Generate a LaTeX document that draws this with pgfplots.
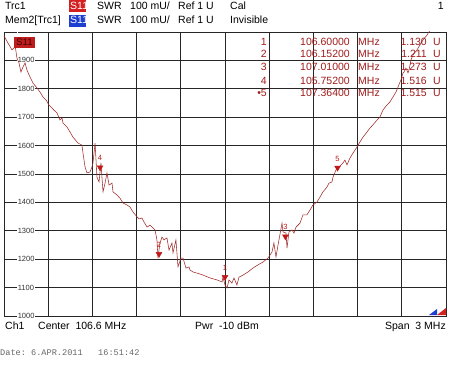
\documentclass[border=0pt]{standalone}
\usepackage{pgfplots}
\pgfplotsset{compat=1.18}
\usepackage{fontspec}
\setmainfont{Liberation Sans}
\setmonofont{Liberation Mono}
\definecolor{trace}{HTML}{A02A2A}
\definecolor{mkred}{HTML}{C01818}
\definecolor{txtred}{HTML}{A01C1C}
\definecolor{hdred}{HTML}{D42020}
\definecolor{hdblue}{HTML}{1F3FD0}
\pgfplotstableread{
f v
105.100 1986
105.127 1961
105.154 1937
105.168 1944
105.175 1954
105.188 1908
105.202 1891
105.215 1859
105.229 1877
105.243 1891
105.256 1866
105.276 1842
105.297 1820
105.324 1803
105.344 1789
105.365 1771
105.385 1761
105.405 1743
105.426 1732
105.439 1725
105.460 1715
105.480 1690
105.494 1697
105.500 1680
105.528 1665
105.548 1648
105.568 1630
105.602 1609
105.629 1602
105.636 1574
105.650 1525
105.663 1504
105.684 1507
105.697 1525
105.704 1539
105.718 1609
105.731 1489
105.745 1472
105.758 1539
105.772 1437
105.786 1468
105.799 1504
105.813 1461
105.833 1468
105.840 1437
105.867 1426
105.887 1415
105.908 1398
105.935 1391
105.955 1384
105.976 1366
106.003 1349
106.016 1342
106.037 1345
106.050 1331
106.071 1313
106.091 1320
106.111 1310
106.125 1303
106.138 1268
106.145 1208
106.159 1257
106.172 1278
106.186 1268
106.206 1275
106.220 1232
106.240 1257
106.247 1222
106.267 1268
106.281 1173
106.301 1204
106.315 1204
106.335 1169
106.356 1173
106.362 1162
106.383 1155
106.410 1151
106.451 1144
106.498 1134
106.546 1127
106.580 1120
106.586 1137
106.600 1109
106.614 1099
106.627 1127
106.647 1116
106.661 1134
106.681 1109
106.695 1137
106.722 1144
106.756 1155
106.790 1169
106.824 1180
106.858 1190
106.892 1204
106.919 1225
106.932 1257
106.946 1208
106.960 1250
106.987 1327
106.994 1296
107.014 1292
107.021 1239
107.034 1296
107.055 1303
107.068 1292
107.082 1313
107.109 1327
107.129 1356
107.156 1356
107.177 1373
107.197 1391
107.224 1401
107.245 1419
107.265 1437
107.292 1454
107.306 1468
107.326 1472
107.333 1489
107.353 1514
107.374 1525
107.401 1539
107.414 1549
107.428 1532
107.448 1556
107.469 1574
107.496 1595
107.516 1613
107.537 1630
107.564 1648
107.584 1662
107.604 1673
107.632 1690
107.652 1701
107.672 1725
107.699 1743
107.720 1754
107.740 1771
107.761 1789
107.774 1806
107.794 1831
107.808 1856
107.815 1859
107.828 1873
107.842 1856
107.849 1866
107.862 1901
107.876 1919
107.903 1937
107.923 1954
107.944 1972
107.971 1989
107.984 2000
108.059 2060
}\tracedata
\pgfplotstableread{
f v lab
106.600 1130 1
106.152 1211 2
107.010 1273 3
105.752 1516 4
107.364 1515 5
}\markerdata
\begin{document}
\begin{tikzpicture}
\path[use as bounding box] (0,0) rectangle (450pt,370pt);
\begin{axis}[
  at={(4pt,54pt)}, anchor=south west,
  scale only axis, width=442pt, height=284pt,
  xmin=105.1, xmax=108.1, ymin=1000, ymax=2000,
  xtick={105.4,105.7,106.0,106.3,106.6,106.9,107.2,107.5,107.8},
  xticklabels={},
  ytick={1000,1100,1200,1300,1400,1500,1600,1700,1800,1900,2000},
  yticklabels={1000,1100,1200,1300,1400,1500,1600,1700,1800,1900,{}},
  grid=major,
  major grid style={black!85, line width=0.8pt},
  axis line style={black!85, line width=0.9pt},
  major tick length=0pt,
  yticklabel style={anchor=west, xshift=13pt, fill=white, inner sep=0.6pt, font=\fontsize{7.5}{8}\selectfont, text=black!80},
  clip=true,
]
\addplot[trace, line width=0.55pt, mark=none] table[x=f, y=v] {\tracedata};
\addplot[only marks, mark=triangle*, mark size=3.4pt, color=mkred,
  mark options={yshift=2pt, rotate=180, fill=mkred, draw=mkred},
  point meta=explicit symbolic,
  nodes near coords,
  nodes near coords style={anchor=south, yshift=3pt, font=\fontsize{7.5}{8}\selectfont, text=mkred}]
  table[x=f, y=v, meta=lab] {\markerdata};
\end{axis}
% header
\fill[hdred] (69pt,358pt) rectangle (85.5pt,370pt);
\fill[hdblue] (69pt,343pt) rectangle (85.5pt,355pt);
\begin{scope}[every node/.style={inner sep=0pt, font=\fontsize{10.5}{12}\selectfont}]
\node[anchor=mid west] at (5pt,363pt) {Trc1};
\node[anchor=mid west, text=white] at (70pt,363pt) {S11};
\node[anchor=mid west] at (97pt,363pt) {SWR};
\node[anchor=mid west] at (130pt,363pt) {100 mU/};
\node[anchor=mid west] at (178pt,363pt) {Ref 1 U};
\node[anchor=mid west] at (230pt,363pt) {Cal};
\node[anchor=mid east] at (444pt,363pt) {1};
\node[anchor=mid west] at (5pt,349pt) {Mem2[Trc1]};
\node[anchor=mid west, text=white] at (70pt,349pt) {S11};
\node[anchor=mid west] at (97pt,349pt) {SWR};
\node[anchor=mid west] at (130pt,349pt) {100 mU/};
\node[anchor=mid west] at (178pt,349pt) {Ref 1 U};
\node[anchor=mid west] at (230pt,349pt) {Invisible};
% in-plot S11 label
\fill[hdred!90!black] (14pt,322pt) rectangle (35pt,333pt);
\node[anchor=center, text=black!75!red, font=\fontsize{9.5}{10}\selectfont] at (24.5pt,327.5pt) {S11};
% marker table
\begin{scope}[every node/.append style={text=txtred, font=\fontsize{10.5}{12}\selectfont}]
\node[anchor=mid east] at (267pt,327.3pt) {1};
\node[anchor=mid east] at (267pt,315pt) {2};
\node[anchor=mid east] at (267pt,302pt) {3};
\node[anchor=mid east] at (267pt,288pt) {4};
\node[anchor=mid east] at (267pt,276pt) {\textbullet 5};
\node[anchor=mid east] at (350pt,327.3pt) {106.60000};
\node[anchor=mid east] at (350pt,315pt) {106.15200};
\node[anchor=mid east] at (350pt,302pt) {107.01000};
\node[anchor=mid east] at (350pt,288pt) {105.75200};
\node[anchor=mid east] at (350pt,276pt) {107.36400};
\node[anchor=mid west] at (358pt,327.3pt) {MHz};
\node[anchor=mid west] at (358pt,315pt) {MHz};
\node[anchor=mid west] at (358pt,302pt) {MHz};
\node[anchor=mid west] at (358pt,288pt) {MHz};
\node[anchor=mid west] at (358pt,276pt) {MHz};
\node[anchor=mid east] at (427pt,327.3pt) {1.130};
\node[anchor=mid east] at (427pt,315pt) {1.211};
\node[anchor=mid east] at (427pt,302pt) {1.273};
\node[anchor=mid east] at (427pt,288pt) {1.516};
\node[anchor=mid east] at (427pt,276pt) {1.515};
\node[anchor=mid west] at (433pt,327.3pt) {U};
\node[anchor=mid west] at (433pt,315pt) {U};
\node[anchor=mid west] at (433pt,302pt) {U};
\node[anchor=mid west] at (433pt,288pt) {U};
\node[anchor=mid west] at (433pt,276pt) {U};
\end{scope}
% bottom
\node[anchor=mid west] at (5pt,43pt) {Ch1};
\node[anchor=mid west] at (38pt,43pt) {Center\ \ 106.6 MHz};
\node[anchor=mid west] at (195pt,43pt) {Pwr\ \ -10 dBm};
\node[anchor=mid east] at (446pt,43pt) {Span\ \ 3 MHz};
\node[anchor=mid west, font=\ttfamily\fontsize{8.6}{10}\selectfont, text=black!60] at (0pt,17pt) {Date:\ 6.APR.2011\ \ \ 16:51:42};
\end{scope}
\fill[hdblue] (429pt,55pt) -- (437pt,55pt) -- (437pt,61pt) -- cycle;
\fill[hdred] (437pt,55pt) -- (446pt,55pt) -- (446pt,62pt) -- cycle;
\end{tikzpicture}
\end{document}
